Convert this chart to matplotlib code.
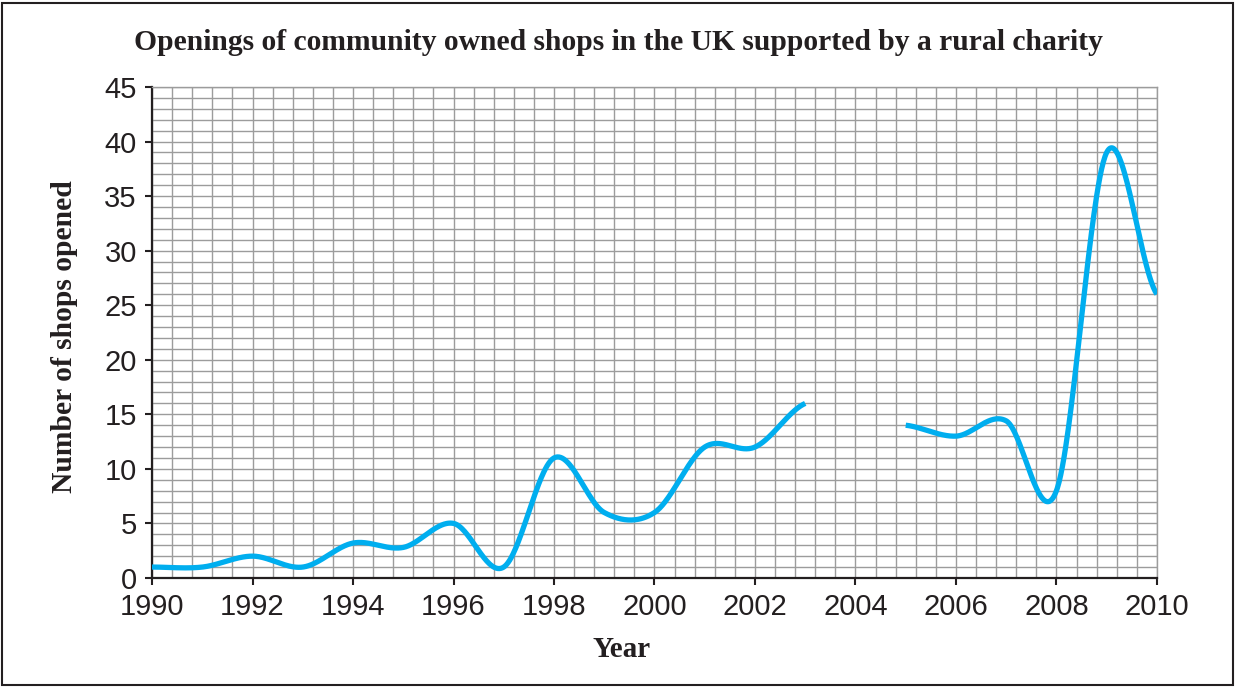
import numpy as np
import matplotlib.pyplot as plt
from matplotlib.patches import Rectangle
from matplotlib.ticker import FixedLocator

# Yearly openings (2004 missing -> gap in the line)
years = list(range(1990, 2011))
shops = [1, 1, 2, 1, 3.2, 2.8, 5, 1, 11, 6, 6, 12, 12, 16,
         np.nan, 14, 13, 14.4, 8, 39, 26]

x_ticks = list(range(1990, 2011, 2))
y_ticks = list(range(0, 46, 5))

title = 'Openings of community owned shops in the UK supported by a rural charity'
x_label = 'Year'
y_label = 'Number of shops opened'

line_color = '#00AEEF'
grid_color = '#9c9c9c'
text_color = '#231F20'


def smooth_segment(xs, ys, n=60):
    # Catmull-Rom style smoothing, like a spreadsheet "smoothed line"
    xs = np.asarray(xs, float)
    ys = np.asarray(ys, float)
    if len(xs) < 2:
        return xs, ys
    m = np.zeros_like(ys)
    m[1:-1] = (ys[2:] - ys[:-2]) / 2
    m[0] = (ys[1] - ys[0]) / 2
    m[-1] = (ys[-1] - ys[-2]) / 2
    out_x, out_y = [], []
    for i in range(len(xs) - 1):
        t = np.linspace(0, 1, n)
        h00 = 2 * t**3 - 3 * t**2 + 1
        h10 = t**3 - 2 * t**2 + t
        h01 = -2 * t**3 + 3 * t**2
        h11 = t**3 - t**2
        dx = xs[i + 1] - xs[i]
        out_y.append(h00 * ys[i] + h10 * m[i] + h01 * ys[i + 1] + h11 * m[i + 1])
        out_x.append(xs[i] + t * dx)
    return np.concatenate(out_x), np.concatenate(out_y)


fig = plt.figure(figsize=(12.35, 6.87), dpi=100)
ax = fig.add_axes([0.1231, 0.1587, 0.8137, 0.7147])

# split series at missing values and draw each smoothed piece
yr = np.array(years, float)
val = np.array(shops, float)
ok = ~np.isnan(val)
start = None
for i in range(len(val) + 1):
    good = i < len(val) and ok[i]
    if good and start is None:
        start = i
    elif not good and start is not None:
        sx, sy = smooth_segment(yr[start:i], val[start:i])
        ax.plot(sx, sy, color=line_color, lw=3.8, solid_capstyle='butt', zorder=3)
        start = None

ax.set_xlim(1990, 2010)
ax.set_ylim(0, 45)
ax.xaxis.set_major_locator(FixedLocator(x_ticks))
ax.yaxis.set_major_locator(FixedLocator(y_ticks))
ax.xaxis.set_minor_locator(FixedLocator(np.round(np.arange(1990, 2010.01, 0.4), 2)))
ax.yaxis.set_minor_locator(FixedLocator(np.arange(0, 46, 1)))
ax.grid(True, which='both', color=grid_color, lw=1.0, zorder=0)
ax.set_axisbelow(True)

ax.tick_params(which='major', direction='out', length=5, width=1.5,
               labelsize=21, colors=text_color)
ax.tick_params(axis='x', which='major', pad=6)
ax.tick_params(axis='y', which='major', pad=6)
ax.tick_params(which='minor', length=0)
for lab in ax.get_xticklabels() + ax.get_yticklabels():
    lab.set_family('Liberation Sans')

for s in ['left', 'bottom']:
    ax.spines[s].set_color(text_color)
    ax.spines[s].set_linewidth(1.6)
for s in ['top', 'right']:
    ax.spines[s].set_color(grid_color)
    ax.spines[s].set_linewidth(1.0)

serif = 'Liberation Serif'
fig.text(0.5005, 0.938, title, ha='center', va='center', fontsize=21.3,
         fontweight='bold', family=serif, color=text_color)
fig.text(0.5036, 0.055, x_label, ha='center', va='center', fontsize=21,
         fontweight='bold', family=serif, color=text_color)
fig.text(0.052, 0.51, y_label, ha='center', va='center', rotation=90,
         fontsize=21.3, fontweight='bold', family=serif, color=text_color)

# frame around the whole figure
fig.patches.append(Rectangle((0.002, 0.003), 0.996, 0.993, transform=fig.transFigure,
                             fill=False, edgecolor=text_color, lw=1.5))

fig.savefig('out.png', dpi=100)
